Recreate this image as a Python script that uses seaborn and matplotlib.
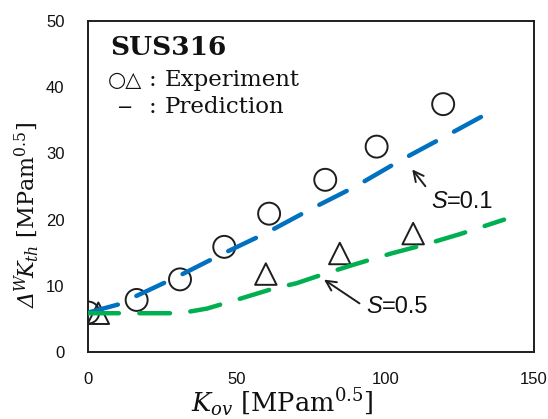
import matplotlib
matplotlib.use("Agg")
import matplotlib.pyplot as plt
import seaborn as sns

# Experiment data (SUS316)
circle_x = [0, 16.3, 30.9, 45.8, 60.9, 79.8, 97.1, 119.5]
circle_y = [6.0, 7.9, 11.0, 15.9, 20.9, 26.0, 31.0, 37.4]
triangle_x = [3.4, 59.8, 84.7, 109.4]
triangle_y = [5.9, 11.8, 14.9, 17.9]

# Prediction curves
pred_s01_x = [0, 10, 20, 30, 45, 60, 75, 90, 105, 120, 134]
pred_s01_y = [6.0, 7.2, 9.3, 11.4, 14.8, 18.0, 21.6, 25.0, 28.9, 32.5, 35.9]
pred_s05_x = [0, 31, 40, 52, 63, 70, 80, 90, 102, 113, 125, 140]
pred_s05_y = [5.9, 5.9, 6.6, 8.2, 9.7, 10.4, 11.9, 13.3, 14.9, 16.2, 17.8, 20.0]

x_ticks = [0, 50, 100, 150]
y_ticks = [0, 10, 20, 30, 40, 50]

sns.set_style("white")
plt.rcParams["mathtext.fontset"] = "custom"
plt.rcParams["mathtext.rm"] = "DejaVu Serif"
plt.rcParams["mathtext.it"] = "DejaVu Serif:italic"
plt.rcParams["mathtext.bf"] = "DejaVu Serif:bold"
# italic capital Greek (the 'it' slot forces capital Greek upright)
plt.rcParams["mathtext.cal"] = "DejaVu Serif:italic"

fig = plt.figure(figsize=(5.48, 4.19), dpi=100)
ax = fig.add_axes([0.161, 0.159, 0.813, 0.792])

# markers
sns.scatterplot(x=circle_x, y=circle_y, marker="o", s=250, ax=ax, zorder=2)
sns.scatterplot(x=triangle_x, y=triangle_y, marker="^", s=240, ax=ax, zorder=2)
for coll in ax.collections:
    coll.set_facecolor("none")
    coll.set_edgecolor("#1e1e1e")
    coll.set_linewidth(1.4)

# prediction lines
sns.lineplot(x=pred_s01_x, y=pred_s01_y, color="#0070C0", lw=3.2, ax=ax, zorder=3)
sns.lineplot(x=pred_s05_x, y=pred_s05_y, color="#00B050", lw=3.2, ax=ax, zorder=3)
for line in ax.lines:
    line.set_dashes((6.9, 4.6))
    line.set_dash_capstyle("round")

ax.set_xlim(0, 150)
ax.set_ylim(0, 50)
ax.set_xticks(x_ticks)
ax.set_yticks(y_ticks)
ax.tick_params(direction="in", length=6, width=1.3, pad=17, labelsize=12,
               colors="#111111")
ax.tick_params(axis="x", pad=14)
for lab in ax.get_xticklabels() + ax.get_yticklabels():
    lab.set_family("Liberation Sans")
for sp in ax.spines.values():
    sp.set_linewidth(1.4)
    sp.set_color("#1e1e1e")

# axis labels
fig.text(0.515, 0.016, r"$K_{ov}$ [MPam$^{0.5}$]", ha="center", va="baseline",
         fontsize=18.5, family="DejaVu Serif", color="#111111")
fig.text(0.049, 0.486, r"$\mathcal{Δ}^{W}\!K_{th}$ [MPam$^{0.5}$]",
         ha="center", va="center", rotation=90, fontsize=16,
         family="DejaVu Serif", color="#111111")

# in-plot legend text
ax.text(7.3, 45.9, "SUS316", fontsize=19, fontweight="bold",
        family="DejaVu Serif", va="center", color="#111111")
ax.text(6.6, 41.0, "○△", fontsize=15, family="DejaVu Sans", va="center",
        color="#111111")
ax.text(9.6, 36.9, "−", fontsize=14, family="DejaVu Sans", va="center",
        color="#111111")
for yy in [41.0, 36.9]:
    ax.text(21.8, yy, ":", fontsize=16.5, family="DejaVu Serif", va="center",
            ha="center", color="#111111")
ax.text(25.6, 41.0, "Experiment", fontsize=16.5, family="DejaVu Serif",
        va="center", color="#111111")
ax.text(25.6, 36.9, "Prediction", fontsize=16.5, family="DejaVu Serif",
        va="center", color="#111111")

# annotations
arrow = dict(arrowstyle="->", color="#1e1e1e", lw=1.4, mutation_scale=18)
ax.annotate("", xy=(108.5, 27.9), xytext=(114.1, 24.7), arrowprops=arrow)
ax.annotate("", xy=(78.6, 11.2), xytext=(92.1, 7.15), arrowprops=arrow)
for sx, sy, val in [(115.4, 22.8, "=0.1"), (93.7, 6.85, "=0.5")]:
    t = ax.text(sx, sy, "S", fontsize=17, style="italic",
                family="Liberation Sans", va="center", color="#111111")
    ax.annotate(val, xy=(1, 0), xycoords=t, va="bottom", fontsize=17,
                family="Liberation Sans", color="#111111")

fig.savefig("out.png", dpi=100)
